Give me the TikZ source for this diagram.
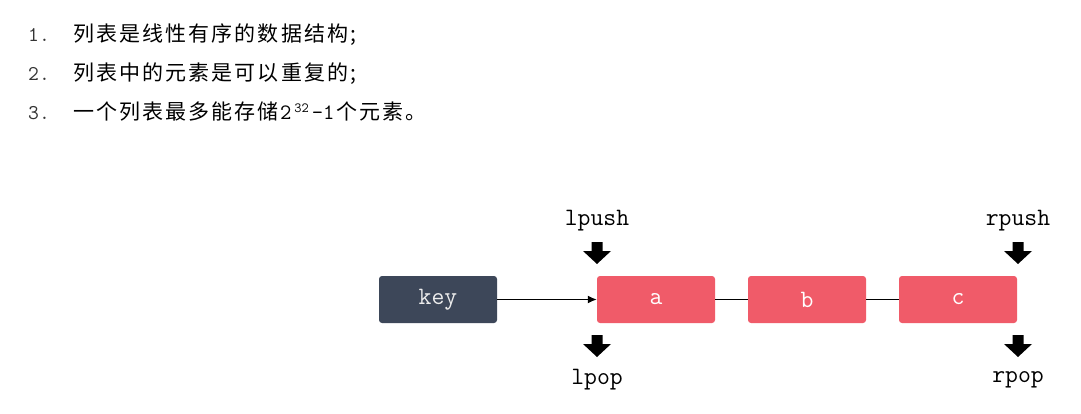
\documentclass[tikz,border=0pt]{standalone}
\usepackage{fontspec}
\newfontfamily\cjk[LetterSpace=10]{Noto Sans CJK SC}
\newcommand\mono{\ttfamily}
\usetikzlibrary{arrows.meta}
\definecolor{keyc}{HTML}{3D4759}
\definecolor{elc}{HTML}{F05B69}
\definecolor{numc}{HTML}{333333}
\begin{document}
\begin{tikzpicture}[x=1pt,y=-1pt,
  box/.style={rounded corners=3pt, minimum width=118pt, minimum height=47pt, inner sep=0pt, font=\mono\fontsize{25}{25}\selectfont},
  keybox/.style={box, fill=keyc, text=gray!15},
  elbox/.style={box, fill=elc, text=white},
  oplabel/.style={font=\mono\fontsize{25}{25}\selectfont, inner sep=0pt},
  link/.style={draw=black, line width=1.3pt},
  numtext/.style={anchor=base west, inner sep=0pt, text=numc, font=\mono\fontsize{21}{21}\selectfont},
  itemtext/.style={anchor=base west, inner sep=0pt, text=black, font=\cjk\fontsize{21}{21}\selectfont},
  downarrow/.pic={\fill[black] (-5.5,0) -- (5.5,0) -- (5.5,9) -- (14,9) -- (0,22) -- (-14,9) -- (-5.5,9) -- cycle;}]
\useasboundingbox[fill=white] (0,0) rectangle (1081,414);

% list text
\node[numtext] (n1) at (28,42) {1.};
\node[itemtext] (t1) at (73,42) {列表是线性有序的数据结构;};
\node[numtext] (n2) at (28,80.5) {2.};
\node[itemtext] (t2) at (73,80.5) {列表中的元素是可以重复的;};
\node[numtext] (n3) at (28,119.5) {3.};
\node[itemtext] (t3) at (73,119.5) {一个列表最多能存储{\mono\fontsize{22}{22}\selectfont\kern1pt 2\kern3pt\raisebox{7pt}{\fontsize{14}{14}\selectfont 32}\kern3pt-1\kern2pt}个元素。};

% boxes
\node[keybox] (key) at (438,299.5) {key};
\node[elbox] (a) at (656,299.5) {a};
\node[elbox] (b) at (807,299.5) {b};
\node[elbox] (c) at (958,299.5) {c};

\draw[link,-{Latex[length=9pt,width=8pt]}] (key) -- (a);
\draw[link] (a) -- (b);
\draw[link] (b) -- (c);

% operations
\node[oplabel] (lpush) at (597,221) {lpush};
\node[oplabel] (lpop) at (597,380) {lpop};
\node[oplabel] (rpush) at (1018,221) {rpush};
\node[oplabel] (rpop) at (1018,380) {rpop};

\pic at (597,242) {downarrow};
\pic at (597,335) {downarrow};
\pic at (1018,242) {downarrow};
\pic at (1018,335) {downarrow};
\end{tikzpicture}
\end{document}
